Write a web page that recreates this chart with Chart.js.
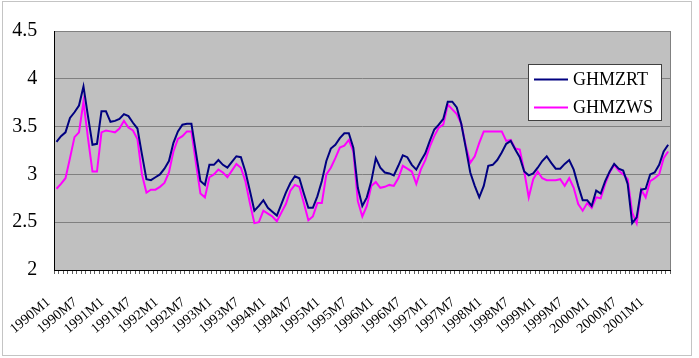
<!DOCTYPE html>
<html><head><meta charset="utf-8">
<script src="https://cdn.jsdelivr.net/npm/chart.js@4/dist/chart.umd.min.js"></script>
<style>html,body{margin:0;padding:0;background:#fff}#wrap{width:699px;height:358px;position:relative}</style>
</head><body><div id="wrap"><canvas id="c" width="699" height="358"></canvas></div>
<script>
const years = [1990,1991,1992,1993,1994,1995,1996,1997,1998,1999,2000,2001];
const lastYearMonths = 5;
const categories = [];
years.forEach(y => { const n = (y === 2001) ? lastYearMonths : 12; for (let m = 1; m <= n; m++) categories.push(y + 'M' + m); });

const seriesNames = ['GHMZRT', 'GHMZWS'];

const ghmzrt = [3.34,3.40,3.44,3.59,3.65,3.72,3.92,3.61,3.31,3.32,3.66,3.66,
3.55,3.56,3.58,3.63,3.61,3.54,3.48,3.21,2.95,2.94,2.97,3.00,
3.06,3.14,3.33,3.45,3.52,3.53,3.53,3.23,2.93,2.89,3.10,3.10,
3.15,3.10,3.07,3.13,3.19,3.18,3.03,2.83,2.62,2.67,2.73,2.65,
2.61,2.57,2.69,2.81,2.91,2.98,2.96,2.80,2.65,2.65,2.77,2.93,
3.14,3.27,3.31,3.38,3.43,3.43,3.28,2.86,2.67,2.76,2.93,3.17,
3.07,3.02,3.01,2.99,3.09,3.20,3.18,3.10,3.05,3.14,3.22,3.35,
3.47,3.52,3.58,3.76,3.76,3.70,3.53,3.28,3.02,2.88,2.76,2.88,
3.09,3.10,3.15,3.23,3.32,3.35,3.26,3.18,3.03,2.99,3.01,3.07,
3.14,3.19,3.12,3.06,3.06,3.11,3.15,3.05,2.88,2.73,2.73,2.67,
2.83,2.80,2.93,3.03,3.11,3.06,3.04,2.90,2.49,2.55,2.84,2.85,
3.00,3.02,3.10,3.24,3.31];

const ghmzws = [2.85,2.90,2.96,3.17,3.39,3.44,3.76,3.38,3.03,3.03,3.44,3.46,
3.45,3.44,3.48,3.56,3.49,3.46,3.37,3.00,2.81,2.84,2.84,2.87,
2.91,3.02,3.24,3.37,3.40,3.45,3.45,3.12,2.80,2.76,2.97,3.00,
3.05,3.02,2.97,3.04,3.11,3.07,2.93,2.70,2.49,2.50,2.62,2.59,
2.56,2.51,2.60,2.69,2.83,2.89,2.87,2.70,2.52,2.56,2.70,2.70,
3.00,3.07,3.17,3.28,3.30,3.36,3.24,2.72,2.56,2.67,2.88,2.92,
2.86,2.87,2.89,2.88,2.96,3.09,3.06,3.03,2.90,3.05,3.15,3.29,
3.40,3.49,3.52,3.73,3.68,3.63,3.53,3.30,3.12,3.19,3.33,3.45,
3.45,3.45,3.45,3.45,3.35,3.36,3.27,3.26,3.03,2.76,2.95,3.03,
2.96,2.94,2.94,2.94,2.95,2.88,2.96,2.86,2.69,2.62,2.70,2.65,
2.76,2.75,2.90,3.02,3.10,3.04,3.00,2.95,2.60,2.49,2.84,2.76,
2.93,2.96,3.00,3.17,3.24];

const yTicks = [2, 2.5, 3, 3.5, 4, 4.5];
const labelEvery = 6;

const FONT = "'Liberation Serif', 'Times New Roman', serif";

const framePlugin = {
  id: 'frame',
  beforeDraw(chart) {
    const ctx = chart.ctx, a = chart.chartArea;
    ctx.save();
    ctx.fillStyle = '#ffffff';
    ctx.fillRect(0, 0, chart.width, chart.height);
    ctx.strokeStyle = '#c4c4c4';
    ctx.lineWidth = 1;
    ctx.strokeRect(2.5, 1.5, 689, 354);
    ctx.fillStyle = '#c0c0c0';
    ctx.fillRect(a.left, a.top, a.right - a.left, a.bottom - a.top);
    ctx.strokeStyle = '#808080';
    ctx.strokeRect(Math.round(a.left) + 0.5, Math.round(a.top) + 0.5, Math.round(a.right - a.left), Math.round(a.bottom - a.top));
    ctx.restore();
  },
  afterDatasetsDraw(chart) {
    const ctx = chart.ctx;
    ctx.save();
    const bx = 528.5, by = 64.5, bw = 133, bh = 56;
    ctx.fillStyle = '#ffffff';
    ctx.fillRect(bx, by, bw, bh);
    ctx.strokeStyle = '#404040';
    ctx.lineWidth = 1;
    ctx.strokeRect(bx, by, bw, bh);
    const rows = [79.5, 107.5];
    chart.data.datasets.forEach((ds, i) => {
      ctx.strokeStyle = ds.borderColor;
      ctx.lineWidth = 2;
      ctx.beginPath();
      ctx.moveTo(534, rows[i]);
      ctx.lineTo(568, rows[i]);
      ctx.stroke();
      ctx.fillStyle = '#000';
      ctx.font = '18px ' + FONT;
      ctx.textBaseline = 'middle';
      ctx.textAlign = 'left';
      ctx.fillText(ds.label, 573, rows[i] + 1);
    });
    ctx.restore();
  }
};

new Chart(document.getElementById('c'), {
  type: 'line',
  data: {
    labels: categories,
    datasets: [
      { label: seriesNames[0], data: ghmzrt, borderColor: '#000080', backgroundColor: '#000080', borderWidth: 2, pointRadius: 0, tension: 0, fill: false },
      { label: seriesNames[1], data: ghmzws, borderColor: '#ff00ff', backgroundColor: '#ff00ff', borderWidth: 2, pointRadius: 0, tension: 0, fill: false }
    ]
  },
  options: {
    responsive: false,
    animation: false,
    devicePixelRatio: 1,
    layout: { padding: { top: 31, right: 15, left: 0, bottom: 0 } },
    plugins: { legend: { display: false }, tooltip: { enabled: false } },
    scales: {
      x: {
        type: 'category',
        offset: true,
        grid: { display: true, drawOnChartArea: false, drawTicks: true, tickLength: 4, tickColor: '#606060', offset: true },
        border: { display: true, color: '#000000', width: 1 },
        ticks: {
          autoSkip: false, minRotation: 40, maxRotation: 40, padding: 20, labelOffset: -8,
          color: '#000', font: { family: FONT, size: 14 },
          callback: function (v, i) { return i % labelEvery === 0 ? categories[i] : ''; }
        },
        afterFit: function (s) { s.height = 88; }
      },
      y: {
        min: yTicks[0], max: yTicks[yTicks.length - 1],
        afterBuildTicks: function (s) { s.ticks = yTicks.map(v => ({ value: v })); },
        grid: { color: '#808080', lineWidth: 1, drawTicks: false },
        border: { display: true, color: '#000000', width: 1 },
        ticks: { padding: 17, color: '#000', font: { family: FONT, size: 20 }, callback: function (v) { return String(v); } },
        afterFit: function (s) { s.width = 53; }
      }
    }
  },
  plugins: [framePlugin]
});
</script></body></html>
